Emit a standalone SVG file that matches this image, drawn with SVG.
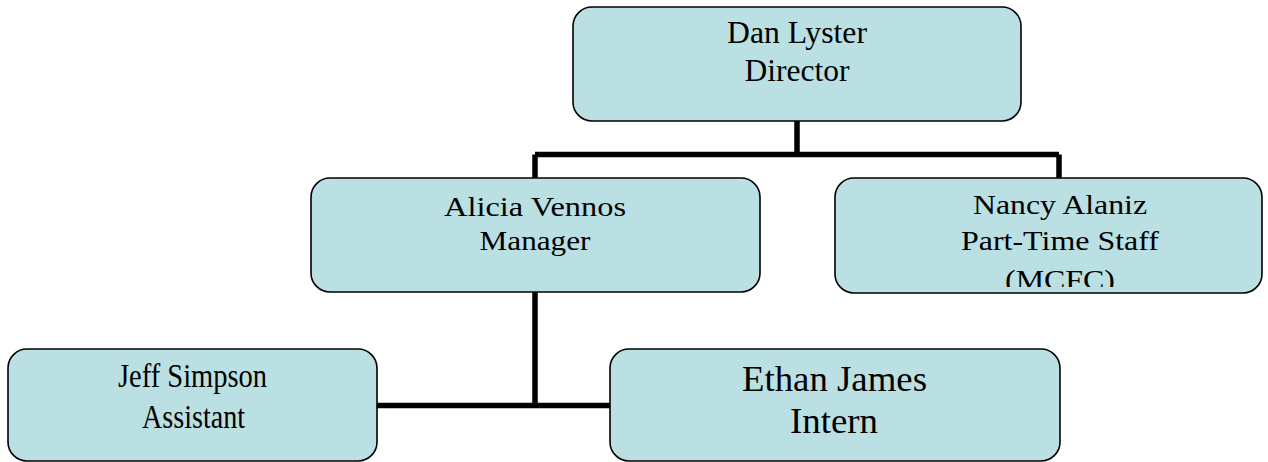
<svg xmlns="http://www.w3.org/2000/svg" width="1268" height="462" viewBox="0 0 1268 462">
<style>
.box{fill:#BBE0E3;stroke:#000;stroke-width:1.6}
.t{font-family:"Liberation Serif","Times New Roman",serif;fill:#000;text-anchor:middle}
.c{fill:none;stroke:#000;stroke-width:5.5;stroke-linecap:butt;stroke-linejoin:miter}
</style>
<defs>
<clipPath id="clipNancy"><rect x="835" y="178" width="427" height="109"/></clipPath>
</defs>
<rect width="1268" height="462" fill="#fff"/>
<g id="connectors">
<path class="c" d="M797 121 V154.5 M535 154.5 H1059 M535 154.5 V178 M1059 154.5 V178"/>
<path class="c" d="M535 292 V405.5 M377 405.5 H610"/>
</g>
<g id="director">
<rect class="box" x="573" y="7" width="448" height="114" rx="19"/>
<text class="t" font-size="31"><tspan x="797" y="43" textLength="140" lengthAdjust="spacingAndGlyphs">Dan Lyster</tspan><tspan x="797" y="81" textLength="105" lengthAdjust="spacingAndGlyphs">Director</tspan></text>
</g>
<g id="alicia">
<rect class="box" x="311" y="178" width="449" height="114" rx="19"/>
<text class="t" font-size="28"><tspan x="535" y="216" textLength="182" lengthAdjust="spacingAndGlyphs">Alicia Vennos</tspan><tspan x="535" y="250" textLength="111" lengthAdjust="spacingAndGlyphs">Manager</tspan></text>
</g>
<g id="nancy">
<rect class="box" x="835" y="178" width="427" height="115" rx="19"/>
<text class="t" font-size="28" clip-path="url(#clipNancy)"><tspan x="1060" y="214" textLength="174" lengthAdjust="spacingAndGlyphs">Nancy Alaniz</tspan><tspan x="1060" y="250" textLength="198" lengthAdjust="spacingAndGlyphs">Part-Time Staff</tspan><tspan x="1060" y="289" textLength="110" lengthAdjust="spacingAndGlyphs">(MCFC)</tspan></text>
</g>
<g id="jeff">
<rect class="box" x="8" y="349" width="369" height="112" rx="19"/>
<text class="t" font-size="33"><tspan x="192.5" y="387" textLength="149" lengthAdjust="spacingAndGlyphs">Jeff Simpson</tspan><tspan x="193.5" y="428" textLength="103" lengthAdjust="spacingAndGlyphs">Assistant</tspan></text>
</g>
<g id="ethan">
<rect class="box" x="610" y="349" width="450" height="112" rx="19"/>
<text class="t" font-size="36"><tspan x="834.5" y="391" textLength="185" lengthAdjust="spacingAndGlyphs">Ethan James</tspan><tspan x="834" y="433" textLength="88" lengthAdjust="spacingAndGlyphs">Intern</tspan></text>
</g>
</svg>
